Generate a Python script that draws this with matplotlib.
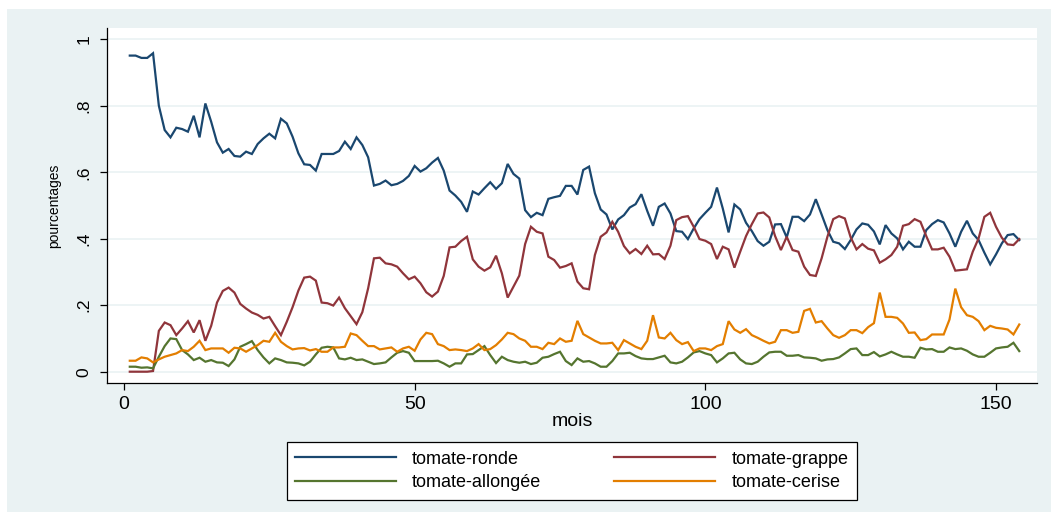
import matplotlib
matplotlib.use("Agg")
import matplotlib.pyplot as plt
from matplotlib.patches import Rectangle

plt.rcParams['font.family'] = ['Liberation Sans', 'DejaVu Sans']

mois = list(range(1, 155))

ronde = [
    0.951, 0.951, 0.944, 0.944, 0.958, 0.800, 0.727, 0.705, 0.734, 0.730,
    0.722, 0.770, 0.705, 0.807, 0.752, 0.690, 0.659, 0.670, 0.649, 0.647,
    0.662, 0.655, 0.685, 0.702, 0.716, 0.702, 0.761, 0.747, 0.707, 0.657,
    0.624, 0.622, 0.605, 0.655, 0.655, 0.655, 0.664, 0.692, 0.670, 0.705,
    0.682, 0.645, 0.560, 0.565, 0.575, 0.561, 0.565, 0.574, 0.589, 0.619,
    0.602, 0.612, 0.629, 0.643, 0.605, 0.545, 0.530, 0.511, 0.481, 0.542,
    0.533, 0.552, 0.570, 0.550, 0.567, 0.625, 0.595, 0.581, 0.486, 0.465,
    0.478, 0.471, 0.520, 0.525, 0.529, 0.559, 0.559, 0.533, 0.607, 0.617,
    0.537, 0.488, 0.473, 0.428, 0.458, 0.471, 0.494, 0.504, 0.534, 0.484,
    0.439, 0.496, 0.506, 0.476, 0.423, 0.421, 0.399, 0.431, 0.459, 0.478,
    0.496, 0.554, 0.491, 0.419, 0.503, 0.488, 0.448, 0.423, 0.393, 0.379,
    0.391, 0.443, 0.444, 0.404, 0.466, 0.466, 0.453, 0.473, 0.519, 0.473,
    0.426, 0.391, 0.386, 0.369, 0.396, 0.428, 0.446, 0.442, 0.422, 0.383,
    0.441, 0.416, 0.401, 0.368, 0.391, 0.376, 0.376, 0.426, 0.444, 0.456,
    0.449, 0.416, 0.376, 0.421, 0.454, 0.416, 0.396, 0.358, 0.323, 0.353,
    0.386, 0.411, 0.414, 0.396,
]

grappe = [
    0.000, 0.000, 0.000, 0.000, 0.002, 0.123, 0.148, 0.140, 0.110, 0.130,
    0.152, 0.118, 0.155, 0.093, 0.138, 0.208, 0.243, 0.253, 0.238, 0.204,
    0.190, 0.178, 0.171, 0.160, 0.165, 0.137, 0.110, 0.150, 0.194, 0.244,
    0.283, 0.286, 0.274, 0.208, 0.206, 0.199, 0.223, 0.191, 0.167, 0.143,
    0.179, 0.251, 0.341, 0.343, 0.326, 0.323, 0.316, 0.296, 0.278, 0.286,
    0.266, 0.239, 0.226, 0.241, 0.288, 0.374, 0.376, 0.393, 0.406, 0.338,
    0.316, 0.304, 0.314, 0.349, 0.296, 0.223, 0.256, 0.289, 0.384, 0.436,
    0.421, 0.416, 0.346, 0.336, 0.313, 0.318, 0.326, 0.271, 0.251, 0.248,
    0.351, 0.406, 0.419, 0.451, 0.421, 0.378, 0.356, 0.369, 0.354, 0.379,
    0.353, 0.354, 0.339, 0.379, 0.456, 0.465, 0.468, 0.436, 0.399, 0.394,
    0.384, 0.339, 0.376, 0.368, 0.313, 0.361, 0.408, 0.444, 0.476, 0.479,
    0.464, 0.408, 0.366, 0.406, 0.366, 0.361, 0.316, 0.291, 0.288, 0.341,
    0.406, 0.459, 0.468, 0.461, 0.404, 0.368, 0.384, 0.370, 0.365, 0.328,
    0.338, 0.351, 0.376, 0.439, 0.444, 0.459, 0.451, 0.408, 0.368, 0.368,
    0.373, 0.346, 0.304, 0.306, 0.308, 0.361, 0.401, 0.466, 0.478, 0.436,
    0.403, 0.383, 0.381, 0.399,
]

allongee = [
    0.015, 0.015, 0.012, 0.013, 0.010, 0.045, 0.077, 0.100, 0.098, 0.065,
    0.052, 0.035, 0.042, 0.030, 0.035, 0.028, 0.027, 0.017, 0.037, 0.075,
    0.083, 0.092, 0.065, 0.043, 0.025, 0.040, 0.035, 0.028, 0.027, 0.025,
    0.019, 0.030, 0.052, 0.072, 0.075, 0.073, 0.040, 0.037, 0.042, 0.035,
    0.037, 0.030, 0.023, 0.025, 0.028, 0.043, 0.057, 0.062, 0.057, 0.032,
    0.032, 0.032, 0.032, 0.033, 0.025, 0.015, 0.025, 0.025, 0.052, 0.053,
    0.065, 0.077, 0.050, 0.026, 0.045, 0.035, 0.030, 0.027, 0.030, 0.023,
    0.027, 0.042, 0.045, 0.053, 0.060, 0.032, 0.020, 0.040, 0.030, 0.032,
    0.025, 0.015, 0.015, 0.032, 0.055, 0.055, 0.057, 0.047, 0.040, 0.038,
    0.038, 0.043, 0.048, 0.028, 0.025, 0.030, 0.043, 0.058, 0.062, 0.055,
    0.050, 0.028, 0.040, 0.055, 0.057, 0.037, 0.025, 0.023, 0.030, 0.045,
    0.058, 0.060, 0.060, 0.048, 0.048, 0.050, 0.043, 0.042, 0.040, 0.033,
    0.037, 0.038, 0.043, 0.055, 0.068, 0.070, 0.050, 0.050, 0.059, 0.046,
    0.052, 0.060, 0.052, 0.045, 0.045, 0.042, 0.072, 0.067, 0.068, 0.060,
    0.060, 0.073, 0.068, 0.070, 0.063, 0.052, 0.045, 0.045, 0.057, 0.070,
    0.073, 0.075, 0.087, 0.062,
]

cerise = [
    0.033, 0.033, 0.043, 0.040, 0.028, 0.037, 0.045, 0.050, 0.055, 0.065,
    0.062, 0.075, 0.093, 0.065, 0.070, 0.070, 0.070, 0.057, 0.072, 0.070,
    0.060, 0.070, 0.080, 0.093, 0.090, 0.117, 0.090, 0.077, 0.067, 0.070,
    0.071, 0.064, 0.068, 0.060, 0.060, 0.073, 0.073, 0.075, 0.115, 0.110,
    0.093, 0.077, 0.077, 0.067, 0.070, 0.073, 0.060, 0.070, 0.075, 0.063,
    0.097, 0.117, 0.113, 0.083, 0.077, 0.065, 0.067, 0.065, 0.062, 0.070,
    0.083, 0.065, 0.068, 0.080, 0.097, 0.117, 0.113, 0.100, 0.093, 0.075,
    0.075, 0.068, 0.087, 0.083, 0.100, 0.090, 0.093, 0.153, 0.113, 0.103,
    0.093, 0.085, 0.085, 0.087, 0.065, 0.095, 0.085, 0.075, 0.068, 0.093,
    0.170, 0.103, 0.100, 0.117, 0.095, 0.083, 0.089, 0.062, 0.070, 0.070,
    0.065, 0.077, 0.083, 0.152, 0.127, 0.117, 0.128, 0.110, 0.102, 0.093,
    0.085, 0.090, 0.125, 0.125, 0.117, 0.120, 0.183, 0.189, 0.148, 0.152,
    0.130, 0.110, 0.102, 0.110, 0.125, 0.125, 0.116, 0.134, 0.146, 0.238,
    0.165, 0.165, 0.162, 0.145, 0.117, 0.118, 0.095, 0.098, 0.112, 0.112,
    0.112, 0.157, 0.250, 0.194, 0.170, 0.165, 0.152, 0.125, 0.138, 0.132,
    0.130, 0.127, 0.112, 0.142,
]

series_labels = ['tomate-ronde', 'tomate-grappe', 'tomate-allongée', 'tomate-cerise']
series_colors = ['#1A476F', '#90353B', '#55752F', '#E37E00']
x_ticks = [0, 50, 100, 150]
y_ticks = [0, 0.2, 0.4, 0.6, 0.8, 1.0]
y_ticklabels = ['0', '.2', '.4', '.6', '.8', '1']

W, H = 1051, 517
fig = plt.figure(figsize=(W / 100, H / 100), dpi=100)
fig.patch.set_facecolor('white')
fig.add_artist(Rectangle((7 / W, 1 - 512 / H), (W - 7) / W, (512 - 9) / H,
                         transform=fig.transFigure, facecolor='#EAF2F3',
                         edgecolor='none', zorder=0))

ax = fig.add_axes([107 / W, 1 - 383 / H, (1037 - 107) / W, (383 - 28) / H])
ax.set_facecolor('white')

handles = []
for vals, lab, col in zip([ronde, grappe, allongee, cerise], series_labels, series_colors):
    h, = ax.plot(mois, vals, color=col, lw=1.6, label=lab, solid_joinstyle='miter', zorder=3)
    handles.append(h)

ax.set_xlim(-2.92, 157.05)
ax.set_ylim(-0.034, 1.034)
ax.set_xticks(x_ticks)
ax.set_xticklabels([str(t) for t in x_ticks])
ax.set_yticks(y_ticks)
ax.set_yticklabels(y_ticklabels, rotation=90, va='center')

ax.yaxis.grid(True, color='#EAF2F3', lw=1.2, zorder=0)
ax.xaxis.grid(False)
ax.set_axisbelow(True)

for s in ['top', 'right']:
    ax.spines[s].set_visible(False)
for s in ['left', 'bottom']:
    ax.spines[s].set_color('black')
    ax.spines[s].set_linewidth(0.9)

ax.tick_params(axis='x', direction='out', length=5, width=0.9, pad=4.5, labelsize=14, colors='black')
ax.tick_params(axis='y', direction='out', length=5, width=0.9, pad=6, labelsize=12.5, colors='black')

ax.set_xlabel('mois', fontsize=14)
ax.xaxis.set_label_coords(0.5, -0.085)
ax.set_ylabel('pourcentages', fontsize=10)
ax.yaxis.set_label_coords(-0.0495, 0.5)

order = [0, 2, 1, 3]
leg = fig.legend([handles[i] for i in order], [series_labels[i] for i in order],
                 ncol=2, loc='center', mode='expand',
                 bbox_to_anchor=(277.7 / W, 1 - 500 / H, 588 / W, 58 / H),
                 bbox_transform=fig.transFigure,
                 fontsize=13, handlelength=5.6, handletextpad=0.9,
                 labelspacing=0.38, borderpad=0.45, fancybox=False, shadow=False,
                 framealpha=1, edgecolor='black', facecolor='white')
leg.get_frame().set_linewidth(0.9)
for line in leg.get_lines():
    line.set_linewidth(1.6)

fig.savefig('out.png', dpi=100, facecolor=fig.get_facecolor())
